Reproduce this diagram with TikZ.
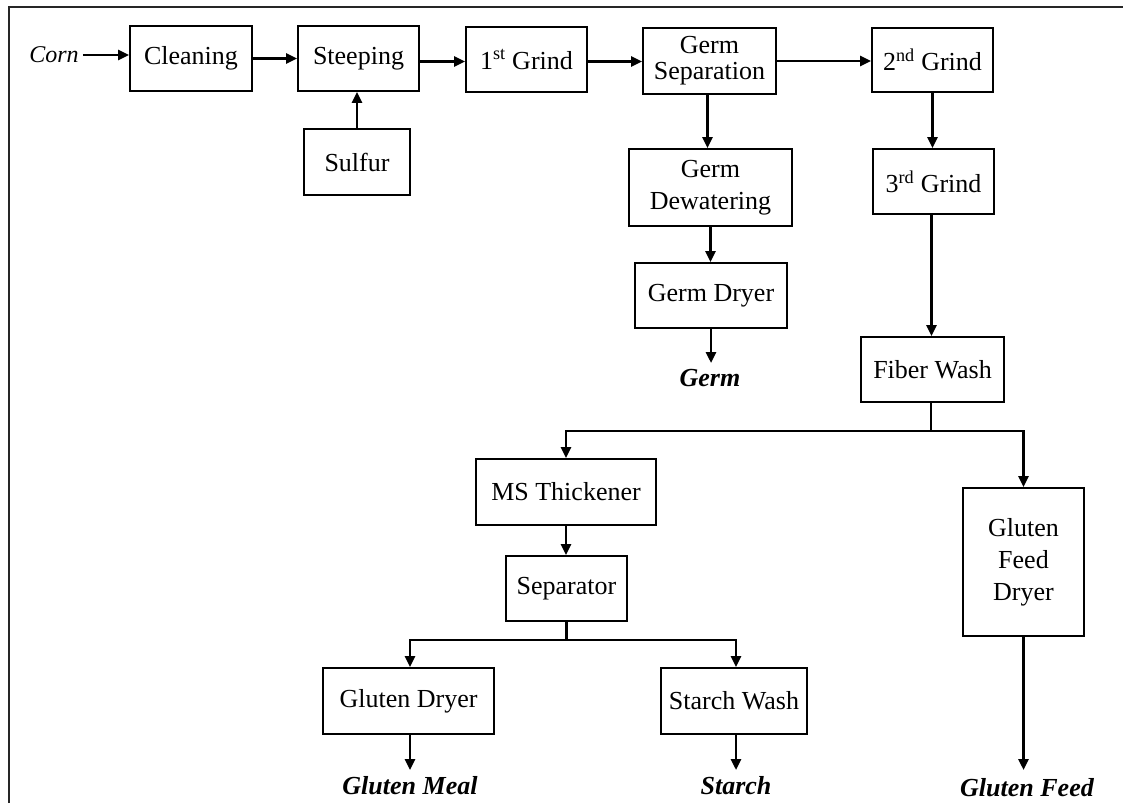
\documentclass[tikz,border=0pt]{standalone}
\usepackage{fontspec}
\setmainfont{Liberation Serif}
\usetikzlibrary{arrows.meta}
\tikzset{
  box/.style={draw=black, line width=1.8pt, inner sep=2pt, align=center,
    font=\fontsize{26}{32}\selectfont},
  outtxt/.style={inner sep=0pt, font=\fontsize{26}{32}\selectfont\bfseries\itshape},
  arr/.style={line width=2.6pt, -{Triangle[length=11pt,width=10pt]}},
  ln/.style={line width=2.6pt},
  frame/.style={line width=2pt, draw=black!85}
}
\begin{document}
\begin{tikzpicture}[x=1pt,y=-1pt]
\useasboundingbox (0,0) rectangle (1123,803);
\fill[white] (0,0) rectangle (1123,803);
% frame
\draw[frame] (9,803) -- (9,7) -- (1123,7);

% nodes
\node[inner sep=0pt, font=\fontsize{24}{30}\selectfont\itshape] (corn) at (54,55) {Corn};
\node[box, minimum width=122, minimum height=65] (clean) at (191,58.5) {Cleaning};
\node[box, minimum width=121, minimum height=65] (steep) at (358.5,58.5) {Steeping};
\node[box, minimum width=106, minimum height=66] (sulf) at (357,162) {Sulfur};
\node[box, minimum width=121, minimum height=65] (g1) at (526.5,59.5) {1\textsuperscript{st} Grind};
\node[box, minimum width=133, minimum height=66] (gs) at (709.5,61) {Germ\\[-6pt]Separation};
\node[box, minimum width=121, minimum height=64] (g2) at (932.5,60) {2\textsuperscript{nd} Grind};
\node[box, minimum width=163, minimum height=77] (gdw) at (710.5,187.5) {Germ\\Dewatering};
\node[box, minimum width=121, minimum height=65] (g3) at (933.5,181.5) {3\textsuperscript{rd} Grind};
\node[box, minimum width=152, minimum height=65] (gdr) at (711,295.5) {Germ Dryer};
\node[outtxt] (germ) at (710,378) {Germ};
\node[box, minimum width=143, minimum height=65] (fw) at (932.5,369.5) {Fiber Wash};
\node[box, minimum width=180, minimum height=66] (ms) at (566,492) {MS Thickener};
\node[box, minimum width=121, minimum height=65] (sep) at (566.5,588.5) {Separator};
\node[box, minimum width=171, minimum height=66] (gld) at (408.5,701) {Gluten Dryer};
\node[box, minimum width=146, minimum height=66] (sw) at (734,701) {Starch Wash};
\node[box, minimum width=121, minimum height=148] (gfd) at (1023.5,562) {Gluten\\Feed\\Dryer};
\node[outtxt] (gmeal) at (410,786) {Gluten Meal};
\node[outtxt] (starch) at (736,786) {Starch};
\node[outtxt] (gfeed) at (1027,788) {Gluten Feed};

% free ends
\coordinate (germin) at (711,363);
\coordinate (gmealin) at (410,770);
\coordinate (starchin) at (736,770);
\coordinate (gfeedin) at (1023.5,770);
\coordinate (b1) at (931,431);
\coordinate (b2) at (566.5,640);

% connectors
\draw[arr] (corn.east) ++(4,0) coordinate (cs) -- (cs -| clean.west);
\draw[arr] (clean.east) -- (steep.west);
\draw[arr] (sulf.north) -- (sulf.north |- steep.south);
\draw[arr] (steep.east) ++(0,3) coordinate (s1) -- (s1 -| g1.west);
\draw[arr] (g1.east) ++(0,2) coordinate (s2) -- (s2 -| gs.west);
\draw[arr] (gs.east) -- (gs.east -| g2.west);
\draw[arr] (gs.south -| gdw.north) ++(-3,0) coordinate (s3) -- (s3 |- gdw.north);
\draw[arr] (gdw.south) -- (gdw.south |- gdr.north);
\draw[arr] (gdr.south) -- (germin);
\draw[arr] (g2.south) -- (g2.south |- g3.north);
\draw[arr] (g3.south) ++(-2,0) coordinate (s4) -- (s4 |- fw.north);
\draw[ln] (fw.south -| b1) -- (b1);
\draw[arr] (b1) -| (ms.north);
\draw[arr] (b1) -| (gfd.north);
\draw[arr] (ms.south) -- (ms.south |- sep.north);
\draw[ln] (sep.south) -- (b2);
\draw[arr] (b2) -| (gld.north -| gmealin);
\draw[arr] (b2) -| (sw.north -| starchin);
\draw[arr] (gld.south -| gmealin) -- (gmealin);
\draw[arr] (sw.south -| starchin) -- (starchin);
\draw[arr] (gfd.south) -- (gfeedin);
\end{tikzpicture}
\end{document}
